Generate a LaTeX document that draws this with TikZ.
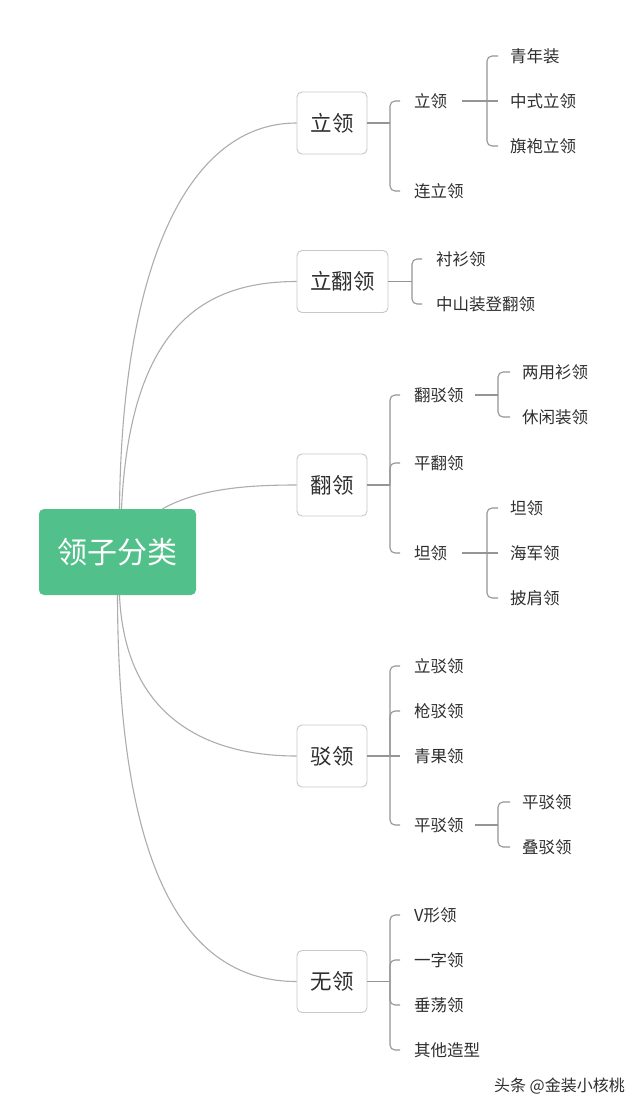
\documentclass[tikz,border=0pt]{standalone}
\usepackage{fontspec}
\newfontfamily\cjk{Noto Sans CJK SC}
\definecolor{rootgreen}{HTML}{52C08A}
\definecolor{boxline}{HTML}{C8C8C8}
\definecolor{curveline}{HTML}{ADADAD}
\definecolor{brline}{HTML}{959595}
\definecolor{txt}{HTML}{2E2E2E}
\tikzset{
  rootbox/.style={draw=none, fill=rootgreen, rounded corners=5pt, minimum width=157pt, minimum height=86pt, text=white, font=\cjk\fontsize{30}{30}\selectfont, inner sep=0pt},
  lvlbox/.style={draw=boxline, line width=0.9pt, fill=white, rounded corners=5pt, minimum height=62pt, text=txt, font=\cjk\fontsize{21.5}{21.5}\selectfont, inner sep=0pt},
  leaf/.style={anchor=west, text=txt, font=\cjk\fontsize{16.5}{16.5}\selectfont, inner sep=0pt},
  curve/.style={draw=curveline, line width=1.1pt},
  br/.style={draw=brline, line width=1.1pt, rounded corners=5pt},
  brs/.style={draw=brline, line width=1.1pt},
}
\begin{document}
\begin{tikzpicture}[x=1pt,y=-1pt]
\useasboundingbox (0,0) rectangle (640,1112);
\fill[white] (0,0) rectangle (640,1112);

% root
\node[rootbox] (root) at (117.5,552) {领子分类};

% level 1
\node[lvlbox, minimum width=70pt] (A) at (332,123) {立领};
\node[lvlbox, minimum width=91pt] (B) at (342.5,281.5) {立翻领};
\node[lvlbox, minimum width=70pt] (C) at (332,485) {翻领};
\node[lvlbox, minimum width=70pt] (D) at (332,756) {驳领};
\node[lvlbox, minimum width=70pt] (E) at (332,981.5) {无领};

% curves from root
\draw[curve] ([xshift=2pt]root.north) .. controls (122,260) and (190,123) .. (A.west);
\draw[curve] ([xshift=4pt]root.north) .. controls (130,330) and (200,281.5) .. (B.west);
\draw[curve] ([xshift=45pt]root.north) .. controls (200,488) and (250,485) .. (C.west);
\draw[curve] ([xshift=2pt]root.south) .. controls (125,720) and (210,756) .. (D.west);
\draw[curve] ([xshift=0pt]root.south) .. controls (118,880) and (190,981.5) .. (E.west);

% ---- 立领 ----
\node[leaf] (A1) at (414,101) {立领};
\node[leaf] (A2) at (414,191) {连立领};
\coordinate (jA) at (390,123);
\draw[brs] (A.east) -- (jA);
\foreach \c in {A1,A2} \draw[br] (jA) |- ([xshift=-14pt]\c.west);

\node[leaf] (A11) at (510,56) {青年装};
\node[leaf] (A12) at (510,101) {中式立领};
\node[leaf] (A13) at (510,146) {旗袍立领};
\coordinate (jA1) at (487,101);
\draw[brs] ([xshift=15pt]A1.east) -- (jA1);
\foreach \c in {A11,A13} \draw[br] (jA1) |- ([xshift=-12pt]\c.west);
\draw[brs] (jA1) -- ([xshift=-12pt]A12.west);

% ---- 立翻领 ----
\node[leaf] (B1) at (436,259) {衬衫领};
\node[leaf] (B2) at (436,304) {中山装登翻领};
\coordinate (jB) at (412,281.5);
\draw[brs] (B.east) -- (jB);
\foreach \c in {B1,B2} \draw[br] (jB) |- ([xshift=-14pt]\c.west);

% ---- 翻领 ----
\node[leaf] (C1) at (414,395) {翻驳领};
\node[leaf] (C2) at (414,463) {平翻领};
\node[leaf] (C3) at (414,553) {坦领};
\coordinate (jC) at (390,485);
\draw[brs] (C.east) -- (jC);
\foreach \c in {C1,C2,C3} \draw[br] (jC) |- ([xshift=-14pt]\c.west);

\node[leaf] (C11) at (522,372) {两用衫领};
\node[leaf] (C12) at (522,417) {休闲装领};
\coordinate (jC1) at (498,395);
\draw[brs] ([xshift=11pt]C1.east) -- (jC1);
\foreach \c in {C11,C12} \draw[br] (jC1) |- ([xshift=-12pt]\c.west);

\node[leaf] (C31) at (510,508) {坦领};
\node[leaf] (C32) at (510,553) {海军领};
\node[leaf] (C33) at (510,598) {披肩领};
\coordinate (jC3) at (487,553);
\draw[brs] ([xshift=15pt]C3.east) -- (jC3);
\foreach \c in {C31,C33} \draw[br] (jC3) |- ([xshift=-12pt]\c.west);
\draw[brs] (jC3) -- ([xshift=-12pt]C32.west);

% ---- 驳领 ----
\node[leaf] (D1) at (414,666) {立驳领};
\node[leaf] (D2) at (414,711) {枪驳领};
\node[leaf] (D3) at (414,756) {青果领};
\node[leaf] (D4) at (414,825) {平驳领};
\coordinate (jD) at (390,756);
\draw[brs] (D.east) -- (jD);
\foreach \c in {D1,D2,D4} \draw[br] (jD) |- ([xshift=-14pt]\c.west);
\draw[brs] (jD) -- ([xshift=-14pt]D3.west);

\node[leaf] (D41) at (522,802) {平驳领};
\node[leaf] (D42) at (522,847) {叠驳领};
\coordinate (jD4) at (498,825);
\draw[brs] ([xshift=11pt]D4.east) -- (jD4);
\foreach \c in {D41,D42} \draw[br] (jD4) |- ([xshift=-12pt]\c.west);

% ---- 无领 ----
\node[leaf] (E1) at (414,915) {V形领};
\node[leaf] (E2) at (414,960) {一字领};
\node[leaf] (E3) at (414,1005) {垂荡领};
\node[leaf] (E4) at (414,1050) {其他造型};
\coordinate (jE) at (390,981.5);
\draw[brs] (E.east) -- (jE);
\foreach \c in {E1,E2,E3,E4} \draw[br] (jE) |- ([xshift=-14pt]\c.west);

% watermark
\node[anchor=east, text=txt, font=\cjk\fontsize{16}{16}\selectfont, inner sep=0pt] (wm) at (625,1086) {头条 @金装小核桃};
\end{tikzpicture}
\end{document}
